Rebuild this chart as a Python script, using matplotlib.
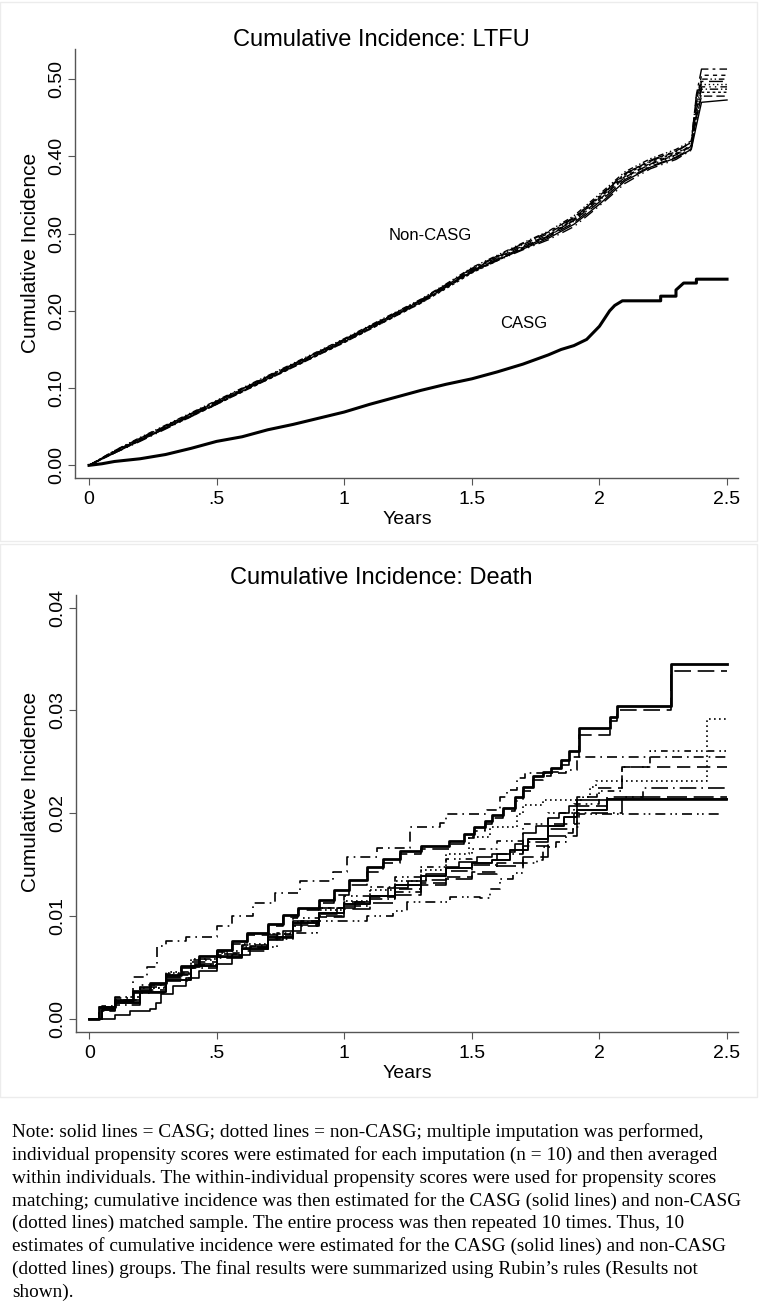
import matplotlib.pyplot as plt
from matplotlib.patches import Rectangle

plt.rcParams['font.family'] = ['Liberation Sans', 'DejaVu Sans']

# ---------------- data: LTFU panel ----------------
ltfu_casg_x = [0, .05, .1, .2, .3, .4, .5, .6, .7, .8, .9, 1.0, 1.1, 1.2, 1.3, 1.4, 1.5, 1.6, 1.7,
               1.8, 1.85, 1.9, 1.95, 2.0, 2.04, 2.06, 2.09, 2.24, 2.24, 2.30, 2.30, 2.33, 2.38, 2.38, 2.5]
ltfu_casg_y = [0, .002, .005, .0085, .014, .022, .031, .037, .046, .053, .061, .069, .079, .088, .097,
               .105, .112, .121, .131, .143, .150, .155, .163, .180, .200, .207, .213, .213, .219, .219,
               .227, .236, .236, .241, .241]

ltfu_t = [0, .1, .2, .3, .4, .5, .6, .7, .8, .9, 1.0, 1.1, 1.2, 1.3, 1.4, 1.5, 1.6, 1.7, 1.8, 1.9,
          2.0, 2.1, 2.2, 2.3, 2.36, 2.38, 2.4, 2.5]
ltfu_non1 = [0, .016, .032, .048, .064, .080, .096, .112, .128, .144, .160, .177, .194, .211, .231,
             .251, .266, .280, .294, .312, .338, .368, .386, .398, .409, .440, .470, .473]
ltfu_non2 = [0, .018, .034, .050, .066, .082, .098, .114, .130, .146, .162, .179, .196, .213, .233,
             .253, .269, .284, .298, .317, .344, .373, .390, .402, .413, .450, .478, .478]
ltfu_non3 = [0, .017, .033, .049, .064, .079, .095, .111, .127, .143, .159, .176, .193, .210, .229,
             .249, .265, .281, .296, .318, .347, .376, .393, .404, .414, .445, .483, .483]
ltfu_non4 = [0, .019, .035, .051, .067, .083, .099, .115, .131, .147, .163, .180, .197, .214, .234,
             .254, .270, .286, .300, .320, .349, .378, .394, .406, .418, .460, .487, .487]
ltfu_non5 = [0, .016, .031, .047, .063, .079, .096, .112, .128, .144, .161, .178, .195, .212, .231,
             .250, .265, .279, .292, .309, .336, .365, .384, .396, .408, .455, .490, .490]
ltfu_non6 = [0, .018, .034, .050, .066, .082, .097, .113, .129, .145, .161, .178, .195, .212, .232,
             .252, .268, .283, .297, .316, .343, .372, .389, .401, .412, .462, .493, .493]
ltfu_non7 = [0, .017, .033, .049, .065, .081, .097, .114, .130, .146, .162, .179, .196, .213, .232,
             .252, .267, .282, .296, .314, .341, .370, .387, .399, .410, .470, .497, .497]
ltfu_non8 = [0, .019, .036, .052, .068, .084, .100, .116, .132, .148, .164, .181, .198, .215, .235,
             .256, .272, .288, .303, .323, .351, .380, .397, .409, .420, .478, .500, .500]
ltfu_non9 = [0, .016, .032, .048, .063, .079, .095, .111, .127, .143, .159, .176, .193, .210, .230,
             .250, .266, .282, .297, .319, .346, .374, .391, .403, .414, .470, .505, .505]
ltfu_non10 = [0, .018, .035, .051, .067, .083, .099, .115, .131, .147, .163, .180, .197, .214, .234,
              .255, .271, .287, .302, .321, .348, .377, .395, .407, .418, .480, .513, .513]

# ---------------- data: Death panel ----------------
death_a_x = [0, .04, .1, .17, .24, .3, .36, .43, .5, .56, .62, .7, .76, .82, .9, .96, 1.02, 1.09, 1.15,
             1.22, 1.3, 1.41, 1.47, 1.51, 1.55, 1.58, 1.62, 1.67, 1.70, 1.74, 1.78, 1.81, 1.85, 1.88,
             1.92, 2.04, 2.07, 2.28, 2.5]
death_a_y = [0, .0012, .0019, .0027, .0035, .0043, .0052, .0061, .0067, .0076, .0084, .0092, .0101,
             .0108, .0116, .0125, .0135, .0148, .0156, .0163, .0168, .0173, .0180, .0187, .0193, .0198,
             .0205, .0216, .0226, .0236, .0240, .0244, .0252, .0261, .0283, .0294, .0304, .0345, .0345]
death_b_y = [0, .0010, .0017, .0025, .0033, .0041, .0050, .0058, .0065, .0073, .0082, .0090, .0099,
             .0106, .0113, .0121, .0130, .0143, .0152, .0160, .0165, .0170, .0176, .0183, .0190, .0195,
             .0202, .0212, .0222, .0232, .0236, .0240, .0247, .0255, .0276, .0290, .0300, .0338, .0338]
death_c_x = [0, .04, .1, .16, .24, .26, .28, .33, .38, .43, .5, .56, .63, .7, .76, .83, .9, .97, 1.04,
             1.1, 1.17, 1.25, 1.32, 1.4, 1.45, 1.52, 1.58, 1.65, 1.67, 1.70, 1.75, 1.80, 1.84, 1.88,
             1.91, 2.5]
death_c_y = [0, 0, .0004, .0008, .0010, .0016, .0024, .0032, .0040, .0047, .0054, .0062, .0070, .0077,
             .0086, .0095, .0102, .0108, .0114, .0120, .0127, .0134, .0141, .0148, .0153, .0158, .0160,
             .0162, .0170, .0181, .0188, .0195, .0200, .0207, .0213, .0213]
death_d_x = [0, .05, .1, .2, .3, .4, .5, .6, .7, .8, .9, 1.0, 1.1, 1.2, 1.3, 1.4, 1.5, 1.58, 1.65,
             1.72, 1.8, 1.86, 1.91, 2.03, 2.5]
death_d_y = [0, .0009, .0016, .0026, .0038, .0052, .0060, .0068, .0080, .0093, .0103, .0112, .0120,
             .0130, .0139, .0147, .0152, .0155, .0164, .0175, .0188, .0196, .0203, .0214, .0214]
death_e_x = [0, .05, .1, .2, .3, .4, .5, .6, .7, .8, .9, 1.0, 1.1, 1.2, 1.3, 1.4, 1.49, 1.57, 1.675,
             1.70, 1.78, 1.935, 1.962, 1.988, 2.42, 2.5]
death_e_y = [0, .0012, .0019, .0030, .0045, .0058, .0066, .0073, .0083, .0094, .0106, .0115, .0125,
             .0134, .0145, .0160, .0177, .0187, .0199, .0208, .0213, .0216, .0226, .0231, .0292, .0292]
death_f_x = [0, .04, .1, .17, .226, .265, .30, .38, .5, .56, .64, .73, .825, .957, 1.01, 1.126, 1.257,
             1.375, 1.40, 1.53, 1.56, 1.61, 1.636, 1.675, 1.71, 1.87, 1.91, 2.5]
death_f_y = [0, .0012, .0020, .0041, .0051, .0071, .0076, .0080, .0090, .0100, .0113, .0123, .0134,
             .0143, .0158, .0166, .0187, .0191, .0199, .0199, .0203, .0216, .0223, .0234, .0239, .0242,
             .0255, .0255]
death_g_x = [0, .05, .1, .2, .3, .4, .5, .6, .734, .826, .891, 1.035, 1.087, 1.19, 1.244, 1.413, 1.53,
             1.57, 1.61, 1.66, 1.70, 1.755, 1.78, 1.83, 1.87, 1.895, 1.92, 2.48]
death_g_y = [0, .0010, .0018, .0030, .0043, .0053, .0062, .0070, .0084, .0084, .0095, .0095, .0100,
             .0105, .0114, .0119, .0118, .0126, .0136, .0142, .0152, .0155, .0167, .0172, .0181, .0187,
             .0199, .0199]
death_h_x = [0, .05, .1, .2, .3, .4, .5, .6, .7, .8, .9, 1.0, 1.1, 1.2, 1.3, 1.4, 1.5, 1.6, 1.7, 1.8,
             1.91, 1.99, 2.09, 2.5]
death_h_y = [0, .0011, .0017, .0028, .0040, .0055, .0063, .0072, .0082, .0095, .0108, .0114, .0119,
             .0126, .0132, .0138, .0143, .0152, .0168, .0190, .0216, .0225, .0245, .0245]
death_i_x = [0, .05, .1, .2, .3, .4, .5, .6, .7, .8, .9, 1.0, 1.1, 1.2, 1.3, 1.4, 1.5, 1.6, 1.7, 1.8,
             1.9, 2.0, 2.09, 2.2, 2.5]
death_i_y = [0, .0013, .0021, .0033, .0046, .0057, .0064, .0071, .0083, .0098, .0108, .0120, .0128,
             .0138, .0148, .0156, .0165, .0173, .0190, .0200, .0209, .0222, .0245, .0261, .0261]
death_j_x = [0, .05, .1, .2, .3, .4, .5, .6, .7, .8, .9, 1.0, 1.1, 1.2, 1.3, 1.4, 1.5, 1.6, 1.7, 1.8,
             1.9, 2.09, 2.17, 2.5]
death_j_y = [0, .0008, .0014, .0025, .0037, .0050, .0059, .0066, .0078, .0090, .0100, .0110, .0117,
             .0124, .0135, .0144, .0150, .0160, .0172, .0185, .0200, .0216, .0225, .0225]
death_k_x = [0, .05, .1, .2, .3, .4, .5, .6, .7, .8, .9, 1.0, 1.1, 1.2, 1.3, 1.4, 1.5, 1.6, 1.7, 1.8,
             1.91, 2.03, 2.5]
death_k_y = [0, .0012, .0019, .0031, .0044, .0054, .0061, .0069, .0079, .0091, .0099, .0107, .0113,
             .0121, .0130, .0136, .0141, .0149, .0158, .0178, .0207, .0216, .0216]

x_ticks = [0, .5, 1, 1.5, 2, 2.5]
x_tick_labels = ['0', '.5', '1', '1.5', '2', '2.5']
ltfu_yticks = [0, .1, .2, .3, .4, .5]
ltfu_ytick_labels = ['0.00', '0.10', '0.20', '0.30', '0.40', '0.50']
death_yticks = [0, .01, .02, .03, .04]
death_ytick_labels = ['0.00', '0.01', '0.02', '0.03', '0.04']

note_lines = [
    "Note: solid lines = CASG; dotted lines = non-CASG; multiple imputation was performed,",
    "individual propensity scores were estimated for each imputation (n = 10) and then averaged",
    "within individuals. The within-individual propensity scores were used for propensity scores",
    "matching; cumulative incidence was then estimated for the CASG (solid lines) and non-CASG",
    "(dotted lines) matched sample. The entire process was then repeated 10 times. Thus, 10",
    "estimates of cumulative incidence were estimated for the CASG (solid lines) and non-CASG",
    "(dotted lines) groups. The final results were summarized using Rubin\u2019s rules (Results not",
    "shown).",
]

W, H = 761, 1305
fig = plt.figure(figsize=(W / 100, H / 100), dpi=100)

# faint panel frames
for top, bot in [(2, 541), (544, 1097)]:
    fig.patches.append(Rectangle((0, 1 - bot / H), 757 / W, (bot - top) / H, transform=fig.transFigure,
                                 fill=False, edgecolor='#ececec', linewidth=1))


def style_axes(ax, yticks, ylabels):
    for s in ['top', 'right']:
        ax.spines[s].set_visible(False)
    for s in ['left', 'bottom']:
        ax.spines[s].set_color('#555555')
        ax.spines[s].set_linewidth(1.0)
    ax.set_xticks(x_ticks)
    ax.set_xticklabels(x_tick_labels)
    ax.set_yticks(yticks)
    ax.set_yticklabels(ylabels, rotation=90, va='center')
    ax.tick_params(direction='out', length=5, width=0.8, color='#555555', labelsize=14, pad=4)
    ax.tick_params(axis='y', pad=2)


# ---------------- top panel ----------------
ax1 = fig.add_axes([75 / W, 1 - 478 / H, 663 / W, 429 / H])
non_styles = ['-', (0, (6, 3)), (0, (2, 2)), (0, (6, 2, 1, 2)), (0, (8, 3, 1, 3, 1, 3)),
              (0, (1, 2)), (0, (10, 4)), (0, (4, 2, 1, 2, 1, 2)), (0, (3, 3)), (0, (12, 3, 2, 3))]
non_series = [ltfu_non1, ltfu_non2, ltfu_non3, ltfu_non4, ltfu_non5,
              ltfu_non6, ltfu_non7, ltfu_non8, ltfu_non9, ltfu_non10]
for vals, ls in zip(non_series, non_styles):
    ax1.plot(ltfu_t, vals, color='black', linestyle=ls, linewidth=1.0)
ax1.plot(ltfu_casg_x, ltfu_casg_y, color='black', linewidth=2.2)
ax1.text(1.336, 0.297, 'Non-CASG', fontsize=12, ha='center', va='center')
ax1.text(1.705, 0.184, 'CASG', fontsize=12, ha='center', va='center')
ax1.set_xlim(-0.0549, 2.543)
ax1.set_ylim(-0.0164, 0.539)
style_axes(ax1, ltfu_yticks, ltfu_ytick_labels)

# ---------------- bottom panel ----------------
ax2 = fig.add_axes([76 / W, 1 - 1032 / H, 662 / W, 437 / H])
death_series = [
    (death_a_x, death_a_y, '-', 2.0),
    (death_a_x, death_b_y, (0, (10, 4)), 1.2),
    (death_c_x, death_c_y, '-', 1.2),
    (death_d_x, death_d_y, '-', 1.4),
    (death_e_x, death_e_y, (0, (1, 2)), 1.2),
    (death_f_x, death_f_y, (0, (6, 3, 1, 3)), 1.2),
    (death_g_x, death_g_y, (0, (6, 3, 1, 2, 1, 3)), 1.2),
    (death_h_x, death_h_y, (0, (8, 4)), 1.2),
    (death_i_x, death_i_y, (0, (4, 3, 1, 2, 1, 3)), 1.2),
    (death_j_x, death_j_y, (0, (10, 3, 1, 3)), 1.2),
    (death_k_x, death_k_y, (0, (12, 4)), 1.2),
]
for xs, ys, ls, lw in death_series:
    ax2.plot(xs, ys, color='black', linestyle=ls, linewidth=lw, drawstyle='steps-post')
ax2.set_xlim(-0.052, 2.543)
ax2.set_ylim(-0.00126, 0.04123)
style_axes(ax2, death_yticks, death_ytick_labels)

# titles and axis labels
fig.text(381 / W, 1 - 40 / H, 'Cumulative Incidence: LTFU', fontsize=17, ha='center', va='center')
fig.text(381 / W, 1 - 578 / H, 'Cumulative Incidence: Death', fontsize=17, ha='center', va='center')
fig.text(407 / W, 1 - 519 / H, 'Years', fontsize=14, ha='center', va='center')
fig.text(407 / W, 1 - 1073 / H, 'Years', fontsize=14, ha='center', va='center')
fig.text(31 / W, 1 - 253 / H, 'Cumulative Incidence', fontsize=15, rotation=90, ha='center', va='center')
fig.text(31 / W, 1 - 792 / H, 'Cumulative Incidence', fontsize=15, rotation=90, ha='center', va='center')

# note
for i, line in enumerate(note_lines):
    fig.text(12 / W, 1 - (1132 + i * 22.9) / H, line, fontsize=13.9, family='Liberation Serif',
             ha='left', va='center')

fig.savefig('out.png', dpi=100)
